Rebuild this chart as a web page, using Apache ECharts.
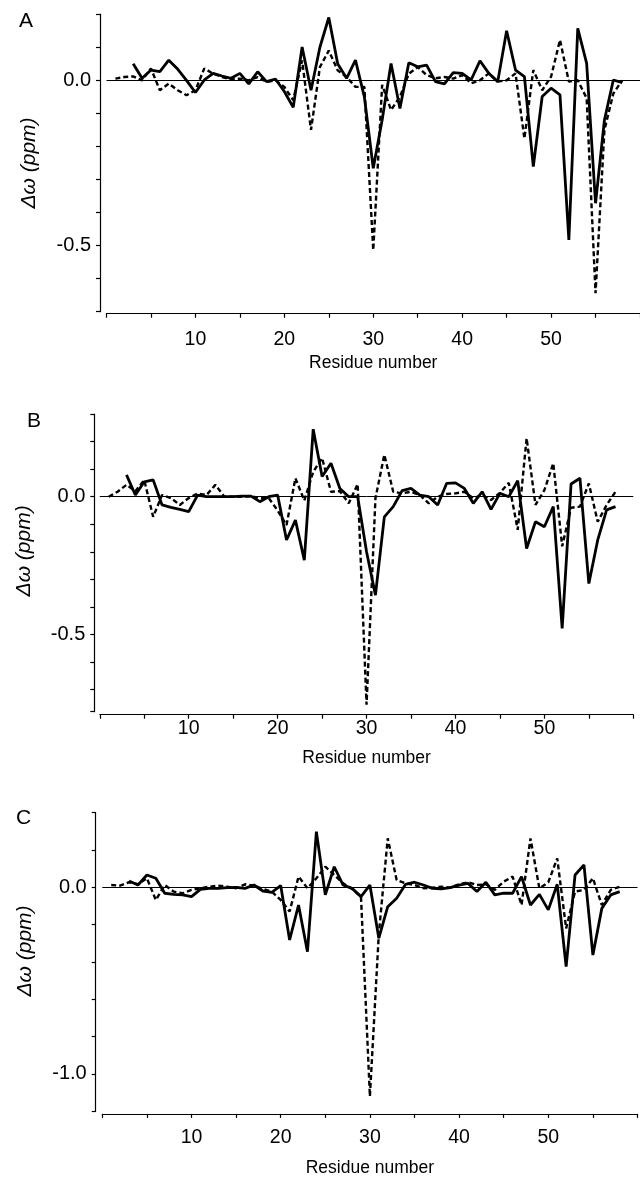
<!DOCTYPE html>
<html><head><meta charset="utf-8">
<script src="https://cdn.jsdelivr.net/npm/echarts@6/dist/echarts.min.js"></script>
<style>html,body{margin:0;padding:0;background:#fff}#c{width:640px;height:1178px}</style>
</head><body><div id="c"></div>
<script>
const residues = [1,2,3,4,5,6,7,8,9,10,11,12,13,14,15,16,17,18,19,20,21,22,23,24,25,26,27,28,29,30,31,32,33,34,35,36,37,38,39,40,41,42,43,44,45,46,47,48,49,50,51,52,53,54,55,56,57,58];
const panelLetters = ['A','B','C'];
const xTicks = [0,5,10,15,20,25,30,35,40,45,50,55,60];
const xTickLabels = [10,20,30,40,50];
const yTicksA = [-0.7,-0.6,-0.5,-0.4,-0.3,-0.2,-0.1,0,0.1,0.2];
const yLabelsA = [0,-0.5];
const yTicksB = [-0.78,-0.7,-0.6,-0.5,-0.4,-0.3,-0.2,-0.1,0,0.1,0.2,0.3];
const yLabelsB = [0,-0.5];
const yTicksC = [-1.2,-1.0,-0.8,-0.6,-0.4,-0.2,0,0.2,0.4];
const yLabelsC = [0,-1.0];

// Panel A (residues 1..58)
const aSolid = [null,null,0.05,0.006,0.031,0.026,0.061,0.034,0.0,-0.037,0.001,0.021,0.013,0.006,0.021,-0.011,0.026,-0.004,0.004,-0.034,-0.082,0.101,-0.03,0.1,0.19,0.05,0.006,0.061,-0.05,-0.266,-0.12,0.051,-0.085,0.053,0.041,0.046,-0.004,-0.011,0.023,0.021,0.001,0.059,0.021,-0.004,0.15,0.031,0.011,-0.261,-0.049,-0.024,-0.044,-0.483,0.157,0.051,-0.372,-0.12,0.001,-0.007];
const aDashed = [0.005,0.01,0.012,0.0,0.036,-0.03,-0.01,-0.03,-0.045,-0.03,0.036,0.02,0.01,0.003,0.005,0.0,0.01,-0.005,0.0,-0.02,-0.06,0.06,-0.15,0.04,0.09,0.03,0.01,-0.02,-0.02,-0.514,-0.014,-0.09,-0.05,0.02,0.04,0.016,0.006,0.01,0.005,0.016,-0.009,0.0,0.021,-0.004,0.0,0.021,-0.176,0.031,-0.03,0.011,0.122,-0.004,0.0,-0.054,-0.644,-0.15,-0.04,0.0];
// Panel B
const bSolid = [null,null,0.079,0.006,0.054,0.061,-0.03,-0.039,-0.046,-0.054,0.006,0.0,0.0,0.0,0.0,0.002,0.002,-0.018,0.0,0.006,-0.157,-0.085,-0.23,0.245,0.073,0.121,0.03,0.0,0.0,-0.2,-0.357,-0.073,-0.036,0.022,0.03,0.006,0.0,-0.03,0.048,0.05,0.03,-0.024,0.018,-0.046,0.012,0.0,0.058,-0.188,-0.091,-0.109,-0.036,-0.478,0.046,0.067,-0.315,-0.157,-0.048,-0.036];
const bDashed = [0.0,0.018,0.043,0.02,0.06,-0.073,0.006,-0.005,-0.03,-0.005,0.012,0.006,0.043,0.0,0.0,0.0,0.002,-0.005,-0.005,-0.05,-0.103,0.067,-0.014,0.09,0.14,0.018,0.02,-0.024,0.046,-0.755,-0.006,0.152,0.018,0.012,0.018,0.006,-0.024,0.0,0.01,0.012,0.018,-0.006,0.006,-0.012,0.014,0.05,-0.12,0.212,-0.03,0.024,0.121,-0.18,-0.04,-0.036,0.048,-0.091,-0.03,0.018];
// Panel C
const cSolid = [null,null,0.034,0.012,0.066,0.048,-0.032,-0.038,-0.041,-0.05,-0.011,-0.006,-0.006,-0.002,0.0,-0.006,0.012,-0.02,-0.027,0.009,-0.282,-0.095,-0.345,0.298,-0.041,0.11,0.012,-0.006,-0.05,0.012,-0.273,-0.104,-0.059,0.016,0.027,0.012,-0.006,-0.009,-0.002,0.012,0.021,-0.023,0.027,-0.041,-0.032,-0.032,0.057,-0.095,-0.038,-0.121,0.016,-0.425,0.066,0.12,-0.363,-0.113,-0.041,-0.023];
const cDashed = [0.012,0.009,0.027,0.016,0.048,-0.068,0.012,-0.023,-0.032,-0.014,-0.005,0.003,0.009,0.003,-0.005,0.016,0.009,-0.009,-0.023,-0.068,-0.13,0.057,-0.005,0.048,0.11,0.066,0.021,-0.009,-0.05,-1.12,-0.25,0.262,0.039,0.021,0.012,-0.005,-0.002,0.003,-0.002,0.016,0.027,0.012,0.016,-0.014,0.03,0.057,-0.095,0.262,-0.006,0.027,0.155,-0.22,-0.023,-0.014,0.048,-0.095,-0.014,0.003];

const FONT = 'Liberation Sans';
const BLACK = '#000';
const pairs = arr => residues.map((r, i) => [r, arr[i]]).filter(p => p[1] !== null);
const fmtY = v => (Math.abs(v) < 1e-9 ? '0.0' : v.toFixed(1));

const panels = [
  {grid:{left:106.5, width:533.5, top:14.2, height:297.5}, yMin:-0.7, yMax:0.2, yTicks:yTicksA, yLabels:yLabelsA, yOff:6.5, xOff:2, xLabMargin:16, xNameGap:40, yNamePad:0, solid:aSolid, dashed:aDashed},
  {grid:{left:99.8, width:533.5, top:414, height:297.7}, yMin:-0.78, yMax:0.3, yTicks:yTicksB, yLabels:yLabelsB, yOff:5.5, xOff:3, xLabMargin:4, xNameGap:34, yNamePad:24, solid:bSolid, dashed:bDashed},
  {grid:{left:102.3, width:535.2, top:812.6, height:298.7}, yMin:-1.2, yMax:0.4, yTicks:yTicksC, yLabels:yLabelsC, yOff:6.6, xOff:2.6, xLabMargin:14, xNameGap:45, yNamePad:22, solid:cSolid, dashed:cDashed}
];
const letterPos = [{left:19, top:11}, {left:27, top:411}, {left:16, top:808}];

const option = {
  animation:false,
  backgroundColor:'#fff',
  title: panelLetters.map((t, i) => ({text:t, left:letterPos[i].left, top:letterPos[i].top, padding:0,
    textStyle:{fontFamily:FONT, fontSize:21, fontWeight:'normal', color:BLACK}})),
  grid: panels.map(p => p.grid),
  xAxis: panels.map((p, i) => ({
    type:'value', gridIndex:i, min:0, max:60, offset:p.xOff,
    name:'Residue number', nameLocation:'middle', nameGap:p.xNameGap,
    nameTextStyle:{fontFamily:FONT, fontSize:17.5, color:BLACK},
    axisLine:{show:true, onZero:false, lineStyle:{color:BLACK, width:1.2}},
    axisTick:{show:true, length:4, customValues:xTicks, lineStyle:{color:BLACK, width:1.2}},
    axisLabel:{customValues:xTickLabels, margin:p.xLabMargin, fontFamily:FONT, fontSize:19.5, color:BLACK, formatter:v => String(v)},
    splitLine:{show:false}
  })),
  yAxis: panels.map((p, i) => ({
    type:'value', gridIndex:i, min:p.yMin, max:p.yMax, offset:p.yOff,
    name:'Δω (ppm)', nameLocation:'middle', nameRotate:90, nameGap:60,
    nameTextStyle:{fontFamily:FONT, fontSize:21, fontStyle:'italic', color:BLACK, padding:[0,0,0,p.yNamePad]},
    axisLine:{show:true, onZero:false, lineStyle:{color:BLACK, width:1.2}},
    axisTick:{show:true, length:4, customValues:p.yTicks, lineStyle:{color:BLACK, width:1.2}},
    axisLabel:{customValues:p.yLabels, margin:9, fontFamily:FONT, fontSize:20, color:BLACK, formatter:fmtY},
    splitLine:{show:false}
  })),
  series: []
};
panels.forEach((p, i) => {
  option.series.push({
    type:'line', xAxisIndex:i, yAxisIndex:i, data:pairs(p.dashed), symbol:'none',
    lineStyle:{color:BLACK, width:2.4, type:[5,3]}, z:3
  });
  option.series.push({
    type:'line', xAxisIndex:i, yAxisIndex:i, data:pairs(p.solid), symbol:'none',
    lineStyle:{color:BLACK, width:2.8}, z:4,
    markLine:{silent:true, symbol:['none','none'], label:{show:false},
      lineStyle:{color:BLACK, width:1, type:'solid'}, data:[{yAxis:0}]}
  });
});
const chart = echarts.init(document.getElementById('c'), null, {renderer:'canvas'});
chart.setOption(option);
</script>
</body></html>
